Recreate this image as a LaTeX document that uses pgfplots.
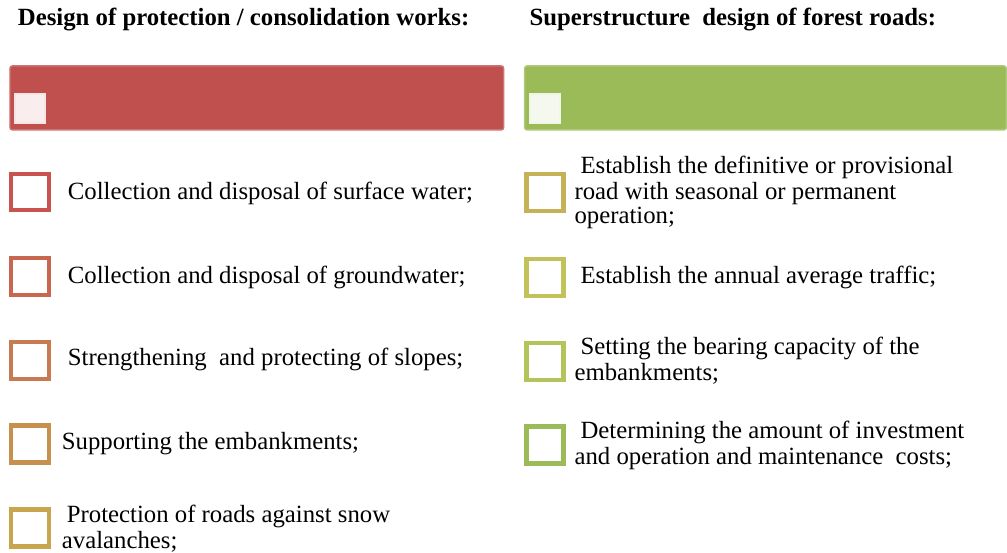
\documentclass[border=0pt]{standalone}
\usepackage{pgfplots}
\pgfplotsset{compat=1.18}
\usepackage{fontspec}
\setmainfont{Liberation Serif}
\definecolor{barred}{HTML}{C0504D}
\definecolor{bargreen}{HTML}{9BBB59}
\definecolor{lA}{HTML}{C9534F}
\definecolor{lB}{HTML}{C86650}
\definecolor{lC}{HTML}{C87A50}
\definecolor{lD}{HTML}{C8904F}
\definecolor{lE}{HTML}{C8A650}
\definecolor{rA}{HTML}{C4B158}
\definecolor{rB}{HTML}{C3C15A}
\definecolor{rC}{HTML}{B3C45A}
\definecolor{rD}{HTML}{9BBB59}
\newcommand{\tf}{\fontsize{10.5}{11}\selectfont}
\tikzset{lbl/.style={anchor=base west, inner sep=0pt, outer sep=0pt, font=\tf}}
\begin{document}
\begin{tikzpicture}
\begin{axis}[
  width=15cm, height=8.2224cm, scale only axis,
  xmin=0, xmax=1007, ymin=0, ymax=552, y dir=reverse,
  hide axis, clip=false,
]
% background frame (keeps bounding box)
\addplot[draw=none, fill=white] coordinates {(0,0)(1007,0)(1007,552)(0,552)} -- cycle;
% headline bars
\addplot[draw=barred!80!white, line width=0.6pt, fill=barred, rounded corners=1pt] coordinates {(10,66)(504,66)(504,130)(10,130)} -- cycle;
\addplot[draw=bargreen!80!white, line width=0.6pt, fill=bargreen, rounded corners=1pt] coordinates {(525,66)(1007,66)(1007,130)(525,130)} -- cycle;
\addplot[draw=white!85!barred, line width=0.8pt, fill=white!90!barred] coordinates {(15,94)(45,94)(45,123)(15,123)} -- cycle;
\addplot[draw=white!85!bargreen, line width=0.8pt, fill=white!90!bargreen] coordinates {(530,94)(560,94)(560,123)(530,123)} -- cycle;
% left item boxes
\addplot[draw=lA, line width=1.9pt, fill=white] coordinates {(11,174)(49,174)(49,210)(11,210)} -- cycle;
\addplot[draw=lB, line width=1.9pt, fill=white] coordinates {(11,258)(49,258)(49,295)(11,295)} -- cycle;
\addplot[draw=lC, line width=1.9pt, fill=white] coordinates {(11,342)(49,342)(49,379)(11,379)} -- cycle;
\addplot[draw=lD, line width=1.9pt, fill=white] coordinates {(11,426)(49,426)(49,463)(11,463)} -- cycle;
\addplot[draw=lE, line width=1.9pt, fill=white] coordinates {(11,510)(49,510)(49,547)(11,547)} -- cycle;
% right item boxes
\addplot[draw=rA, line width=1.9pt, fill=white] coordinates {(527,174)(564,174)(564,211)(527,211)} -- cycle;
\addplot[draw=rB, line width=1.9pt, fill=white] coordinates {(527,259)(564,259)(564,296)(527,296)} -- cycle;
\addplot[draw=rC, line width=1.9pt, fill=white] coordinates {(527,343)(564,343)(564,380)(527,380)} -- cycle;
\addplot[draw=rD, line width=1.9pt, fill=white] coordinates {(527,427)(564,427)(564,464)(527,464)} -- cycle;
% titles
\node[lbl, font=\tf\bfseries] at (axis cs:18,26) {Design of protection / consolidation works:};
\node[lbl, font=\tf\bfseries] at (axis cs:530,26) {Superstructure\ \ design of forest roads:};
% left texts
\node[lbl] at (axis cs:68,200) {Collection and disposal of surface water;};
\node[lbl] at (axis cs:68,284) {Collection and disposal of groundwater;};
\node[lbl] at (axis cs:68,366) {Strengthening\ \ and protecting of slopes;};
\node[lbl] at (axis cs:62,450) {Supporting the embankments;};
\node[lbl] at (axis cs:67,523) {Protection of roads against snow};
\node[lbl] at (axis cs:62,549) {avalanches;};
% right texts
\node[lbl] at (axis cs:581,174) {Establish the definitive or provisional};
\node[lbl] at (axis cs:575,200) {road with seasonal or permanent};
\node[lbl] at (axis cs:575,224) {operation;};
\node[lbl] at (axis cs:581,284) {Establish the annual average traffic;};
\node[lbl] at (axis cs:581,355) {Setting the bearing capacity of the};
\node[lbl] at (axis cs:575,381) {embankments;};
\node[lbl] at (axis cs:581,439) {Determining the amount of investment};
\node[lbl] at (axis cs:575,465) {and operation and maintenance\ \ costs;};
\end{axis}
\end{tikzpicture}
\end{document}
